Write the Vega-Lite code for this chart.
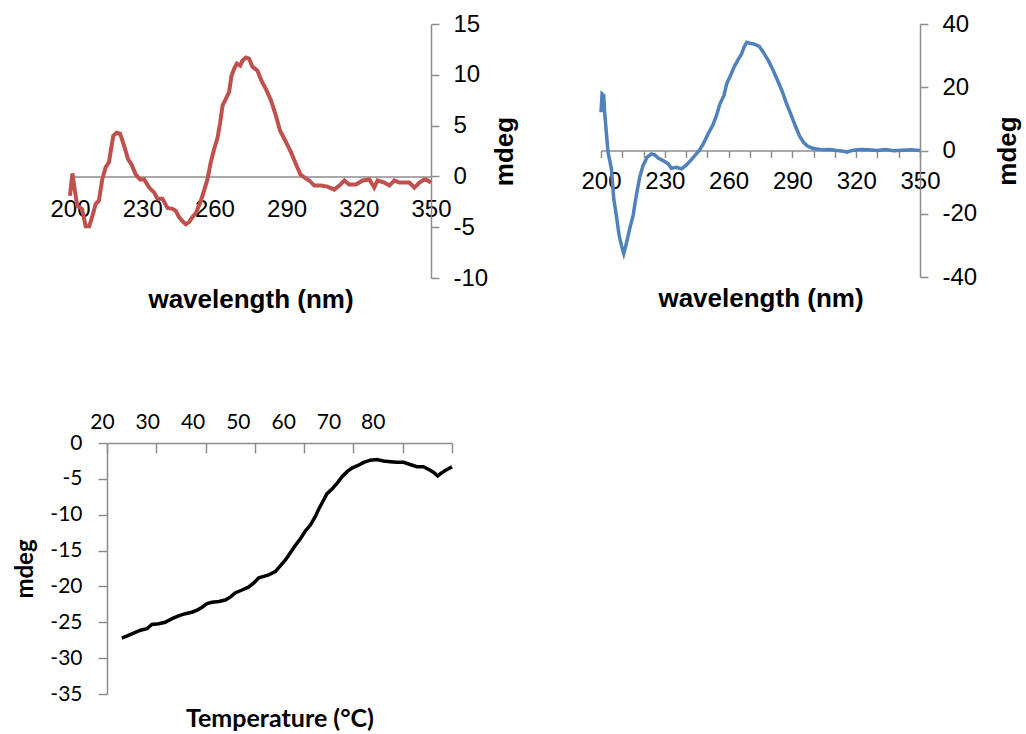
{
  "$schema": "https://vega.github.io/schema/vega-lite/v6.json",
  "background": "white",
  "padding": {"left": 12, "top": 12, "right": 3, "bottom": 3},
  "datasets": {
    "red": [
      {"wl":200,"mdeg":-1.9},{"wl":201,"mdeg":0.3},{"wl":201.7,"mdeg":-0.9},{"wl":203,"mdeg":-2.9},{"wl":205,"mdeg":-3.2},{"wl":206.5,"mdeg":-4.9},{"wl":208,"mdeg":-4.9},{"wl":209.3,"mdeg":-3.9},{"wl":210.7,"mdeg":-2.7},{"wl":212,"mdeg":-2.4},{"wl":213.4,"mdeg":-0.3},{"wl":214.8,"mdeg":0.9},{"wl":216.2,"mdeg":1.4},{"wl":217.2,"mdeg":2.9},{"wl":218,"mdeg":4.0},{"wl":219.4,"mdeg":4.3},{"wl":220.8,"mdeg":4.2},{"wl":222.5,"mdeg":3.0},{"wl":224.1,"mdeg":1.7},{"wl":225.5,"mdeg":1.2},{"wl":227.3,"mdeg":0.2},{"wl":229.1,"mdeg":-0.3},{"wl":230.8,"mdeg":-0.3},{"wl":232.9,"mdeg":-1.1},{"wl":235,"mdeg":-1.6},{"wl":236.3,"mdeg":-2.2},{"wl":238.4,"mdeg":-2.2},{"wl":240.5,"mdeg":-3.1},{"wl":242.6,"mdeg":-3.2},{"wl":244,"mdeg":-3.4},{"wl":245.3,"mdeg":-4.0},{"wl":246.7,"mdeg":-4.4},{"wl":248.1,"mdeg":-4.7},{"wl":249.5,"mdeg":-4.5},{"wl":250.9,"mdeg":-4.0},{"wl":252.3,"mdeg":-3.6},{"wl":254.1,"mdeg":-2.6},{"wl":255.7,"mdeg":-1.4},{"wl":257.1,"mdeg":-0.3},{"wl":258.5,"mdeg":1.4},{"wl":259.9,"mdeg":2.7},{"wl":261.3,"mdeg":3.8},{"wl":262.4,"mdeg":5.3},{"wl":263.4,"mdeg":7.0},{"wl":264.7,"mdeg":7.6},{"wl":266.1,"mdeg":8.3},{"wl":267.1,"mdeg":9.9},{"wl":268.2,"mdeg":10.6},{"wl":269.3,"mdeg":11.1},{"wl":270.7,"mdeg":10.9},{"wl":271.7,"mdeg":11.4},{"wl":273.1,"mdeg":11.7},{"wl":274.4,"mdeg":11.6},{"wl":275.8,"mdeg":10.8},{"wl":277.9,"mdeg":10.4},{"wl":279.6,"mdeg":9.4},{"wl":281.4,"mdeg":8.6},{"wl":283.5,"mdeg":7.5},{"wl":285.5,"mdeg":6.0},{"wl":287.3,"mdeg":4.5},{"wl":289.7,"mdeg":3.4},{"wl":291.8,"mdeg":2.4},{"wl":293.9,"mdeg":1.2},{"wl":295.7,"mdeg":0.2},{"wl":297.3,"mdeg":-0.1},{"wl":299.4,"mdeg":-0.4},{"wl":301.5,"mdeg":-0.9},{"wl":304.3,"mdeg":-0.9},{"wl":307,"mdeg":-1.0},{"wl":309.8,"mdeg":-1.3},{"wl":311.9,"mdeg":-0.9},{"wl":314,"mdeg":-0.4},{"wl":316,"mdeg":-0.8},{"wl":318.8,"mdeg":-0.8},{"wl":321.6,"mdeg":-0.4},{"wl":324.4,"mdeg":-0.3},{"wl":326.4,"mdeg":-1.1},{"wl":327.8,"mdeg":-0.4},{"wl":330.6,"mdeg":-0.6},{"wl":332.7,"mdeg":-0.9},{"wl":334.8,"mdeg":-0.4},{"wl":336.8,"mdeg":-0.6},{"wl":338.9,"mdeg":-0.6},{"wl":341,"mdeg":-0.6},{"wl":343.1,"mdeg":-1.1},{"wl":345.2,"mdeg":-0.6},{"wl":347.2,"mdeg":-0.3},{"wl":348.6,"mdeg":-0.4},{"wl":350,"mdeg":-0.6}
    ],
    "blue": [
      {"wl":200,"mdeg":12.1},{"wl":200.5,"mdeg":17.9},{"wl":201.3,"mdeg":17.4},{"wl":201.7,"mdeg":12.1},{"wl":202.5,"mdeg":5.8},{"wl":203.3,"mdeg":-0.5},{"wl":204.9,"mdeg":-5.8},{"wl":206,"mdeg":-15.3},{"wl":207.2,"mdeg":-20.5},{"wl":208.5,"mdeg":-26.8},{"wl":209.6,"mdeg":-30},{"wl":210.7,"mdeg":-32.6},{"wl":211.9,"mdeg":-29.5},{"wl":213.5,"mdeg":-24.7},{"wl":215.1,"mdeg":-20.5},{"wl":216.6,"mdeg":-14.2},{"wl":218.2,"mdeg":-8.4},{"wl":219.8,"mdeg":-4.7},{"wl":221.7,"mdeg":-2.1},{"wl":223.7,"mdeg":-1.1},{"wl":225.3,"mdeg":-1.4},{"wl":226.9,"mdeg":-2.4},{"wl":229.2,"mdeg":-3.2},{"wl":231.6,"mdeg":-4.2},{"wl":233.1,"mdeg":-5.6},{"wl":235.5,"mdeg":-5.3},{"wl":237.9,"mdeg":-5.8},{"wl":239.9,"mdeg":-4.7},{"wl":242.1,"mdeg":-3.2},{"wl":244.1,"mdeg":-1.6},{"wl":246.2,"mdeg":0},{"wl":248.1,"mdeg":2.1},{"wl":250.4,"mdeg":5.3},{"wl":252.8,"mdeg":8.4},{"wl":254.3,"mdeg":11.1},{"wl":255.9,"mdeg":14.7},{"wl":257.8,"mdeg":17.4},{"wl":259.1,"mdeg":21.1},{"wl":260.9,"mdeg":23.7},{"wl":262.5,"mdeg":26.3},{"wl":264.6,"mdeg":28.9},{"wl":266.1,"mdeg":30.5},{"wl":267.2,"mdeg":32.6},{"wl":268.5,"mdeg":34.2},{"wl":270,"mdeg":33.9},{"wl":271.9,"mdeg":33.7},{"wl":274.4,"mdeg":32.9},{"wl":276.3,"mdeg":31.1},{"wl":278.7,"mdeg":28.4},{"wl":281,"mdeg":25.3},{"wl":283.4,"mdeg":21.6},{"wl":285.4,"mdeg":18.4},{"wl":287.3,"mdeg":14.7},{"wl":289.2,"mdeg":11.6},{"wl":291.3,"mdeg":7.9},{"wl":293.3,"mdeg":4.7},{"wl":295.2,"mdeg":2.6},{"wl":297.1,"mdeg":1.4},{"wl":299.1,"mdeg":0.8},{"wl":301.5,"mdeg":0.5},{"wl":304.6,"mdeg":0.2},{"wl":307.7,"mdeg":0.3},{"wl":310.9,"mdeg":0},{"wl":314,"mdeg":-0.2},{"wl":315.6,"mdeg":-0.5},{"wl":317.9,"mdeg":0},{"wl":321.9,"mdeg":0.3},{"wl":325.8,"mdeg":0.2},{"wl":329.7,"mdeg":0},{"wl":333.7,"mdeg":0.3},{"wl":337.6,"mdeg":-0.1},{"wl":341.5,"mdeg":0.1},{"wl":345.4,"mdeg":0.2},{"wl":350,"mdeg":0}
    ],
    "black": [
      {"t":23.0,"mdeg":-27.2},{"t":24.1,"mdeg":-26.9},{"t":25.4,"mdeg":-26.5},{"t":26.8,"mdeg":-26.1},{"t":28.1,"mdeg":-25.9},{"t":29.1,"mdeg":-25.3},{"t":30.5,"mdeg":-25.2},{"t":31.8,"mdeg":-25.0},{"t":33.2,"mdeg":-24.5},{"t":34.5,"mdeg":-24.1},{"t":35.9,"mdeg":-23.8},{"t":37.2,"mdeg":-23.6},{"t":38.3,"mdeg":-23.3},{"t":39.3,"mdeg":-22.9},{"t":40.3,"mdeg":-22.4},{"t":41.3,"mdeg":-22.2},{"t":42.7,"mdeg":-22.1},{"t":44.0,"mdeg":-21.9},{"t":45.0,"mdeg":-21.5},{"t":46.0,"mdeg":-20.9},{"t":47.4,"mdeg":-20.5},{"t":48.7,"mdeg":-20.1},{"t":49.8,"mdeg":-19.5},{"t":50.8,"mdeg":-18.8},{"t":51.8,"mdeg":-18.6},{"t":52.8,"mdeg":-18.4},{"t":54.2,"mdeg":-17.9},{"t":55.2,"mdeg":-17.1},{"t":56.2,"mdeg":-16.3},{"t":57.2,"mdeg":-15.3},{"t":58.2,"mdeg":-14.3},{"t":59.2,"mdeg":-13.4},{"t":60.2,"mdeg":-12.3},{"t":61.3,"mdeg":-11.4},{"t":62.3,"mdeg":-10.2},{"t":62.9,"mdeg":-9.3},{"t":63.6,"mdeg":-8.4},{"t":64.6,"mdeg":-7.1},{"t":65.7,"mdeg":-6.4},{"t":66.7,"mdeg":-5.6},{"t":67.7,"mdeg":-4.7},{"t":68.7,"mdeg":-4.0},{"t":69.7,"mdeg":-3.5},{"t":70.7,"mdeg":-3.2},{"t":72.1,"mdeg":-2.7},{"t":73.4,"mdeg":-2.4},{"t":74.8,"mdeg":-2.3},{"t":76.1,"mdeg":-2.5},{"t":77.5,"mdeg":-2.6},{"t":78.8,"mdeg":-2.7},{"t":80.2,"mdeg":-2.7},{"t":81.5,"mdeg":-3.0},{"t":82.9,"mdeg":-3.3},{"t":84.2,"mdeg":-3.3},{"t":85.3,"mdeg":-3.7},{"t":86.3,"mdeg":-4.1},{"t":87.1,"mdeg":-4.6},{"t":87.6,"mdeg":-4.3},{"t":88.7,"mdeg":-3.8},{"t":89.3,"mdeg":-3.6},{"t":90.0,"mdeg":-3.3}
    ]
  },
  "config": {
    "view": {"stroke": null},
    "locale": {"number": {"decimal": ".", "thousands": ",", "grouping": [3], "currency": ["$", ""], "minus": "-"}},
    "axis": {
      "grid": false,
      "domainColor": "#8c8c8c", "domainWidth": 1.5,
      "tickColor": "#8c8c8c", "tickWidth": 1.5,
      "labelColor": "black", "titleColor": "black",
      "labelFont": "Liberation Sans", "labelFontSize": 24,
      "titleFont": "Liberation Sans", "titleFontSize": 26, "titleFontWeight": "bold",
      "labelOverlap": false, "labelFlush": false, "labelBound": false
    }
  },
  "spacing": 98,
  "vconcat": [
    {
      "spacing": 0,
      "hconcat": [
        {
          "width": 37, "height": 10,
          "data": {"values": []},
          "mark": "point"
        },
        {
          "spacing": 62,
          "hconcat": [
            {
              "width": 361, "height": 254,
              "data": {"name": "red"},
              "mark": {"type": "line", "color": "#C0504D", "strokeWidth": 4},
              "encoding": {
                "x": {"field": "wl", "type": "quantitative",
                  "scale": {"domain": [200, 350], "nice": false, "zero": false},
                  "axis": {"orient": "bottom", "offset": -101.6, "values": [200, 230, 260, 290, 320, 350],
                    "ticks": false, "labelPadding": 21,
                    "title": "wavelength (nm)", "titleY": 131, "titleBaseline": "alphabetic"}},
                "y": {"field": "mdeg", "type": "quantitative",
                  "scale": {"domain": [-10, 15], "nice": false, "zero": false},
                  "axis": {"orient": "right", "values": [-10, -5, 0, 5, 10, 15], "tickSize": 8, "labelPadding": 14,
                    "title": "mdeg", "titleAngle": 270, "titleBaseline": "top", "titlePadding": 4}}
              }
            },
            {
              "width": 319, "height": 253,
              "data": {"name": "blue"},
              "mark": {"type": "line", "color": "#4F81BD", "strokeWidth": 3.5},
              "encoding": {
                "x": {"field": "wl", "type": "quantitative",
                  "scale": {"domain": [200, 350], "nice": false, "zero": false},
                  "axis": {"orient": "bottom", "offset": -126.5,
                    "values": [200, 210, 220, 230, 240, 250, 260, 270, 280, 290, 300, 310, 320, 330, 340, 350],
                    "labelExpr": "datum.value % 30 == 20 ? datum.label : ''",
                    "tickSize": 7, "labelPadding": 12,
                    "title": "wavelength (nm)", "titleY": 156, "titleBaseline": "alphabetic"}},
                "y": {"field": "mdeg", "type": "quantitative",
                  "scale": {"domain": [-40, 40], "nice": false, "zero": false},
                  "axis": {"orient": "right", "values": [-40, -20, 0, 20, 40], "tickSize": 8, "labelPadding": 14,
                    "title": "mdeg", "titleAngle": 270, "titleBaseline": "top", "titlePadding": 18}}
              }
            }
          ]
        }
      ]
    },
    {
      "spacing": 0,
      "hconcat": [
        {
          "width": 1, "height": 10,
          "data": {"values": []},
          "mark": "point"
        },
        {
          "width": 345, "height": 251,
          "data": {"name": "black"},
          "mark": {"type": "line", "color": "black", "strokeWidth": 3.5},
          "encoding": {
            "x": {"field": "t", "type": "quantitative",
              "scale": {"domain": [20, 90], "nice": false, "zero": false},
              "axis": {"orient": "top", "values": [20, 30, 40, 50, 60, 70, 80, 90],
                "labelExpr": "datum.value == 90 ? '' : datum.label",
                "tickSize": -10, "labelPadding": 21,
                "labelFont": "Lato", "labelFontSize": 21,
                "labelOffset": {"condition": [
                  {"test": "datum.value == 30", "value": -9},
                  {"test": "datum.value == 40", "value": -13},
                  {"test": "datum.value == 50", "value": -17},
                  {"test": "datum.value == 60", "value": -21},
                  {"test": "datum.value == 70", "value": -25},
                  {"test": "datum.value == 80", "value": -30}
                ], "value": -5},
                "title": "Temperature (°C)", "titleFont": "Lato", "titleFontSize": 25,
                "titleY": 283, "titleBaseline": "alphabetic"}},
            "y": {"field": "mdeg", "type": "quantitative",
              "scale": {"domain": [-35, 0], "nice": false, "zero": false},
              "axis": {"orient": "left", "values": [-35, -30, -25, -20, -15, -10, -5, 0], "tickSize": 9, "labelPadding": 16,
                "labelFont": "Lato", "labelFontSize": 21,
                "title": "mdeg", "titleFont": "Lato", "titleFontSize": 24, "titlePadding": 12}}
          }
        }
      ]
    }
  ]
}
